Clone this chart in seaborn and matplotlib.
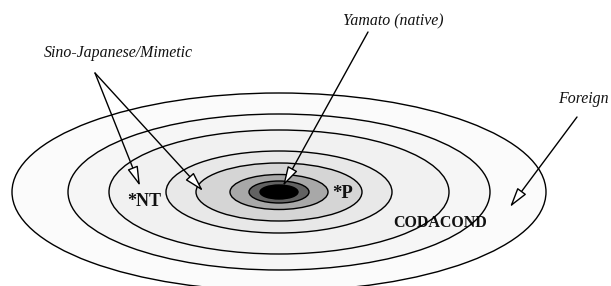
import matplotlib
matplotlib.use("Agg")
import matplotlib.pyplot as plt
from matplotlib.patches import Ellipse
import seaborn as sns

sns.set_theme(style="white")
plt.rcParams['font.family'] = ['Liberation Serif', 'DejaVu Serif']

# concentric strata, outermost first (pixel units of the picture)
center = (279, 192)
half_widths = [267, 211, 170, 113, 83, 49, 30, 19]
half_heights = [99, 78, 62, 41, 29, 17.5, 11, 7]
fills = ['#fbfbfb', '#f6f6f6', '#f1f1f1', '#e8e8e8',
         '#d5d5d5', '#a8a8a8', '#626262', '#000000']

# stratum labels inside the rings
inner_labels = ['*NT', '*P', 'CODACOND']
inner_xy = [(144, 201), (343, 194), (440, 223)]
inner_sizes = [13, 13.5, 11.5]

# annotations: label, label position, arrow tips
notes = ['Yamato (native)', 'Sino-Japanese/Mimetic', 'Foreign']
note_xy = [(393, 21), (118, 53), (609, 99)]
note_ha = ['center', 'center', 'right']
note_tail = [(368, 32), (95, 73), (577, 117)]
note_tips = [[(283, 186)], [(140, 186), (203, 191)], [(510, 207)]]

fig = plt.figure(figsize=(6.11, 2.86), dpi=100)
ax = fig.add_axes([0, 0, 1, 1])
ax.set_xlim(0, 611)
ax.set_ylim(286, 0)
ax.set_axis_off()

# fills first
for w, h, c in zip(half_widths, half_heights, fills):
    ax.add_patch(Ellipse(center, 2 * w, 2 * h, facecolor=c,
                         edgecolor='none', zorder=1))

for lab, (x, y), fs in zip(inner_labels, inner_xy, inner_sizes):
    ax.text(x, y, lab, ha='center', va='center', fontsize=fs,
            fontweight='bold', color='#111111', zorder=2)

# outlines over the text
for w, h in zip(half_widths, half_heights):
    ax.add_patch(Ellipse(center, 2 * w, 2 * h, facecolor='none',
                         edgecolor='black', lw=1.0, zorder=3))

for lab, xy, ha, tail, tips in zip(notes, note_xy, note_ha, note_tail, note_tips):
    ax.text(xy[0], xy[1], lab, ha=ha, va='center', fontsize=11.4,
            fontstyle='italic', color='#111111', zorder=5)
    for tip in tips:
        ax.annotate('', xy=tip, xytext=tail, zorder=4,
                    arrowprops=dict(arrowstyle='-|>,head_length=1.0,head_width=0.28',
                                    fc='white', ec='black', lw=1.0,
                                    mutation_scale=12, shrinkA=0, shrinkB=0))

fig.savefig('out.png', dpi=100)
